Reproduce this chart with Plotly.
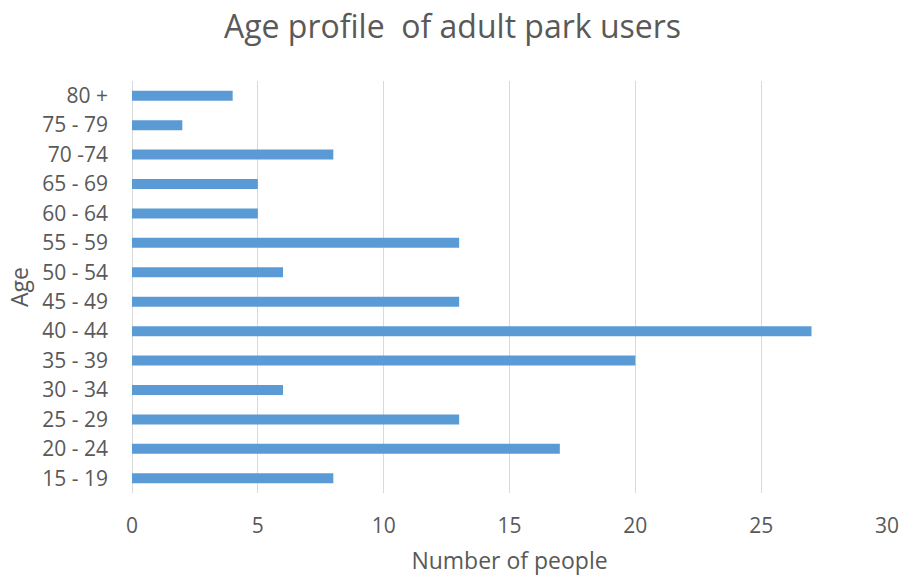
import plotly.graph_objects as go

# Age bands (bottom to top) and number of park users in each
age_groups = ["15 - 19", "20 - 24", "25 - 29", "30 - 34", "35 - 39", "40 - 44", "45 - 49",
              "50 - 54", "55 - 59", "60 - 64", "65 - 69", "70 -74", "75 - 79", "80 +"]
people = [8, 17, 13, 6, 20, 27, 13, 6, 13, 5, 5, 8, 2, 4]
x_ticks = [0, 5, 10, 15, 20, 25, 30]

FONT = "Open Sans"
TXT = "#595959"

fig = go.Figure(go.Bar(
    x=people, y=age_groups, orientation="h",
    marker=dict(color="#5B9BD5", line=dict(width=0)),
))

fig.update_layout(
    width=905, height=576,
    margin=dict(l=132, r=18, t=81, b=83),
    paper_bgcolor="white", plot_bgcolor="white",
    bargap=0.66,
    showlegend=False,
    title=dict(text="Age profile  of adult park users", x=0.5, xanchor="center",
               y=0.953, yanchor="middle",
               font=dict(family=FONT, size=32, color=TXT)),
    font=dict(family=FONT, color=TXT),
)

fig.update_xaxes(
    automargin=False,
    range=[0, 30], tickvals=x_ticks, ticktext=[str(v) for v in x_ticks],
    showgrid=True, gridcolor="#D9D9D9", gridwidth=1,
    zeroline=True, zerolinecolor="#D9D9D9", zerolinewidth=1,
    showline=False, ticks="", ticklabelstandoff=18,
    tickfont=dict(family=FONT, size=21, color=TXT),
    title=dict(text="Number of people", standoff=18,
               font=dict(family=FONT, size=23, color=TXT)),
)
fig.update_yaxes(
    automargin=False,
    categoryorder="array", categoryarray=age_groups,
    showgrid=False, showline=False, ticks="",
    ticklabelstandoff=23,
    tickfont=dict(family=FONT, size=21, color=TXT),
    title=dict(text="Age", standoff=7,
               font=dict(family=FONT, size=23, color=TXT)),
)

fig.write_html("out.html")
